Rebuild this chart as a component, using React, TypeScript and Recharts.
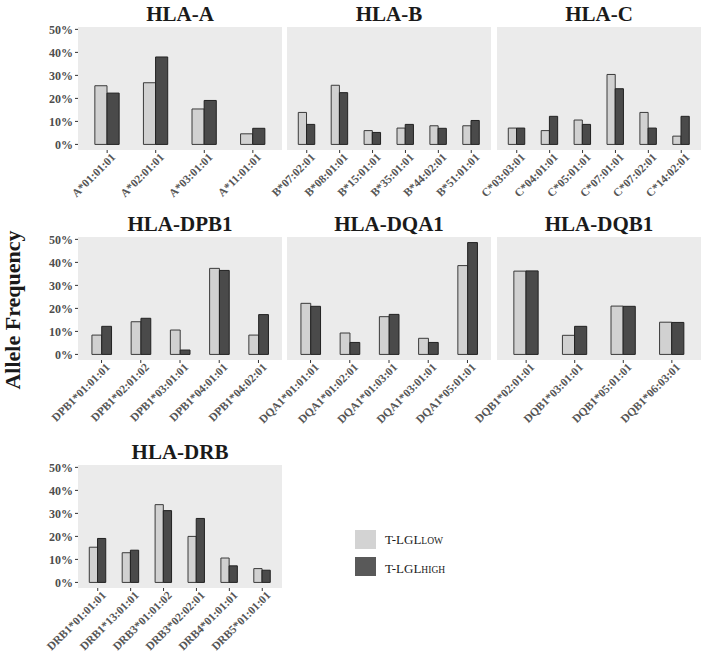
import { BarChart, Bar, XAxis, YAxis, CartesianGrid } from "recharts";

// ---- data (allele frequency, %) ----
const hlaAAlleles = ["A*01:01:01", "A*02:01:01", "A*03:01:01", "A*11:01:01"];
const hlaALow = [25.5, 26.8, 15.4, 4.6];
const hlaAHigh = [22.3, 38.0, 19.1, 7.0];

const hlaBAlleles = ["B*07:02:01", "B*08:01:01", "B*15:01:01", "B*35:01:01", "B*44:02:01", "B*51:01:01"];
const hlaBLow = [13.9, 25.7, 6.0, 7.1, 8.1, 8.1];
const hlaBHigh = [8.7, 22.5, 5.2, 8.7, 7.0, 10.4];

const hlaCAlleles = ["C*03:03:01", "C*04:01:01", "C*05:01:01", "C*07:01:01", "C*07:02:01", "C*14:02:01"];
const hlaCLow = [7.1, 6.0, 10.6, 30.4, 13.9, 3.6];
const hlaCHigh = [7.1, 12.2, 8.7, 24.2, 7.1, 12.2];

const dpb1Alleles = ["DPB1*01:01:01", "DPB1*02:01:02", "DPB1*03:01:01", "DPB1*04:01:01", "DPB1*04:02:01"];
const dpb1Low = [8.4, 14.2, 10.6, 37.4, 8.4];
const dpb1High = [12.2, 15.7, 1.9, 36.5, 17.3];

const dqa1Alleles = ["DQA1*01:01:01", "DQA1*01:02:01", "DQA1*01:03:01", "DQA1*03:01:01", "DQA1*05:01:01"];
const dqa1Low = [22.2, 9.3, 16.4, 7.0, 38.6];
const dqa1High = [20.9, 5.2, 17.4, 5.2, 48.6];

const dqb1Alleles = ["DQB1*02:01:01", "DQB1*03:01:01", "DQB1*05:01:01", "DQB1*06:03:01"];
const dqb1Low = [36.2, 8.3, 21.0, 14.0];
const dqb1High = [36.3, 12.2, 20.9, 13.9];

const drbAlleles = ["DRB1*01:01:01", "DRB1*13:01:01", "DRB3*01:01:02", "DRB3*02:02:01", "DRB4*01:01:01", "DRB5*01:01:01"];
const drbLow = [15.3, 12.9, 33.8, 20.0, 10.6, 6.0];
const drbHigh = [19.1, 14.0, 31.2, 27.8, 7.2, 5.3];

const yTicks = [0, 10, 20, 30, 40, 50];

// ---- layout ----
const PW = 204; // panel width
const PH = 123; // panel height
const ML = 50;
const MR = 16;
const MT = 8;
const XH = 66;
const FONT = "'Liberation Serif', 'DejaVu Serif', serif";
const LOW_FILL = "#d1d1d1";
const HIGH_FILL = "#4a4a4a";

function AlleleTick(props: any) {
  const { x, y, payload } = props;
  return (
    <g transform={`translate(${x + 9},${y + 3})`}>
      <text
        x={0}
        y={0}
        textAnchor="end"
        transform="rotate(-45)"
        fontSize={11.5}
        fontWeight="bold"
        fill="#555"
        fontFamily={FONT}
      >
        {payload.value}
      </text>
    </g>
  );
}

function Panel({
  alleles,
  low,
  high,
  left,
  top,
  showY
}: {
  alleles: string[];
  low: number[];
  high: number[];
  left: number;
  top: number;
  showY?: boolean;
}) {
  const data = alleles.map((a, i) => ({ allele: a, low: low[i], high: high[i] }));
  const unit = PW / (alleles.length + 0.2);
  const pad = unit * 0.1;
  const bs = unit * 0.25;
  return (
    <div style={{ position: "absolute", left: left - ML, top: top - MT }}>
      <BarChart
        width={PW + ML + MR}
        height={PH + MT + XH}
        data={data}
        margin={{ top: MT, right: MR, left: showY ? ML - 40 : ML, bottom: 0 }}
        barGap={0}
        barSize={bs}
      >
        <CartesianGrid horizontal={false} vertical={false} fill="#ebebeb" stroke="none" />
        <XAxis
          dataKey="allele"
          type="category"
          interval={0}
          padding={{ left: pad, right: pad }}
          axisLine={false}
          tickLine={{ stroke: "#333" }}
          tickSize={3}
          tickMargin={2}
          height={XH}
          tick={<AlleleTick />}
        />
        <YAxis
          hide={!showY}
          width={40}
          domain={[-2.43, 51.03]}
          allowDataOverflow
          ticks={yTicks}
          tickFormatter={(v: number) => `${v}%`}
          axisLine={false}
          tickLine={{ stroke: "#333" }}
          tickSize={3}
          tickMargin={2}
          tick={{ fontSize: 12, fontWeight: "bold", fill: "#4d4d4d", fontFamily: FONT }}
        />
        <Bar dataKey="low" fill={LOW_FILL} stroke="#3a3a3a" strokeWidth={1} isAnimationActive={false} />
        <Bar dataKey="high" fill={HIGH_FILL} stroke="#222" strokeWidth={1} isAnimationActive={false} />
      </BarChart>
    </div>
  );
}

const colX = [78, 287, 497];
const rowY = [27, 237, 465];

export default function App() {
  return (
    <div
      style={{
        position: "absolute",
        left: 0,
        top: 0,
        width: 708,
        height: 657,
        background: "white",
        overflow: "hidden"
      }}
    >
      <Panel alleles={hlaAAlleles} low={hlaALow} high={hlaAHigh} left={colX[0]} top={rowY[0]} showY />
      <Panel alleles={hlaBAlleles} low={hlaBLow} high={hlaBHigh} left={colX[1]} top={rowY[0]} />
      <Panel alleles={hlaCAlleles} low={hlaCLow} high={hlaCHigh} left={colX[2]} top={rowY[0]} />
      <Panel alleles={dpb1Alleles} low={dpb1Low} high={dpb1High} left={colX[0]} top={rowY[1]} showY />
      <Panel alleles={dqa1Alleles} low={dqa1Low} high={dqa1High} left={colX[1]} top={rowY[1]} />
      <Panel alleles={dqb1Alleles} low={dqb1Low} high={dqb1High} left={colX[2]} top={rowY[1]} />
      <Panel alleles={drbAlleles} low={drbLow} high={drbHigh} left={colX[0]} top={rowY[2]} showY />

      {/* titles, axis label, legend */}
      <svg
        width={708}
        height={657}
        style={{ position: "absolute", left: 0, top: 0, pointerEvents: "none" }}
        fontFamily={FONT}
      >
        {[
          ["HLA-A", 0, 0],
          ["HLA-B", 1, 0],
          ["HLA-C", 2, 0],
          ["HLA-DPB1", 0, 1],
          ["HLA-DQA1", 1, 1],
          ["HLA-DQB1", 2, 1],
          ["HLA-DRB", 0, 2]
        ].map(([t, c, r]) => (
          <text
            key={t as string}
            x={colX[c as number] + PW / 2}
            y={rowY[r as number] - 6}
            textAnchor="middle"
            fontSize={21}
            fontWeight="bold"
            fill="#1a1a1a"
          >
            {t}
          </text>
        ))}
        <text
          transform="translate(20,310) rotate(-90)"
          textAnchor="middle"
          fontSize={22}
          fontWeight="bold"
          fill="#1a1a1a"
        >
          Allele Frequency
        </text>

        <rect x={355} y={530} width={21} height={19} fill="#d3d3d3" />
        <text x={385} y={544} fontSize={13} fill="#1a1a1a">
          T-LGL<tspan fontSize={9.5}>LOW</tspan>
        </text>
        <rect x={355} y={557} width={21} height={19} fill="#595959" />
        <text x={385} y={573} fontSize={13} fill="#1a1a1a">
          T-LGL<tspan fontSize={9.5}>HIGH</tspan>
        </text>
      </svg>
    </div>
  );
}
